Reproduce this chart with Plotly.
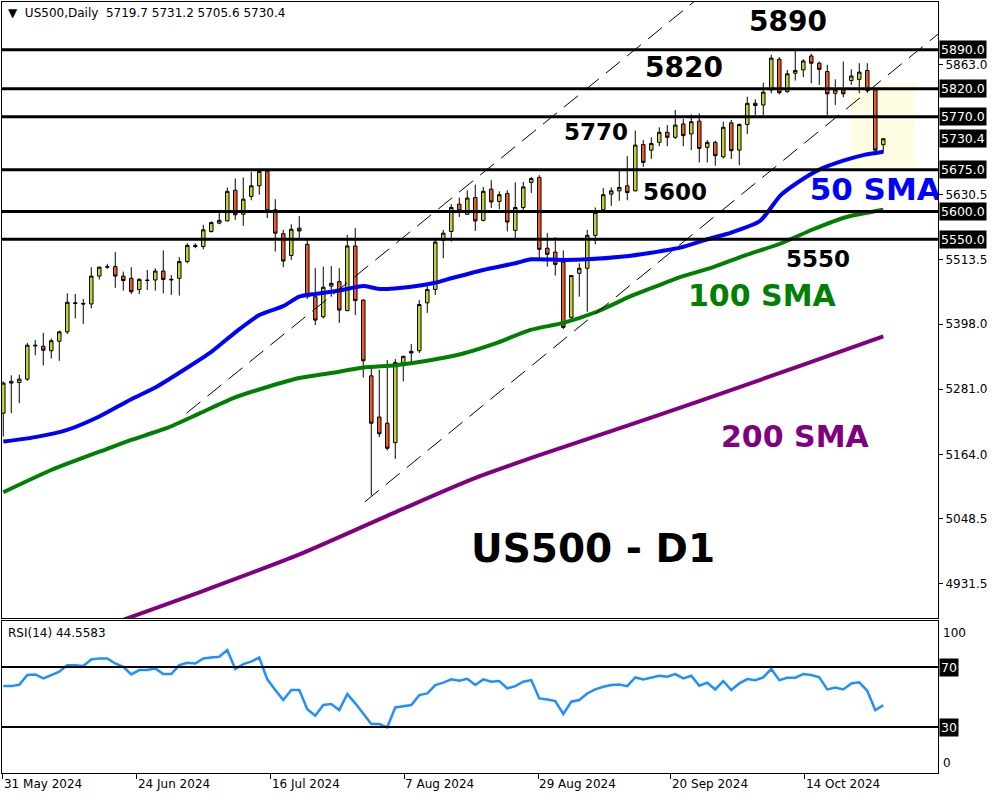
import plotly.graph_objects as go
import pandas as pd

# ---------------- data ----------------
dates = pd.bdate_range("2024-05-31", "2024-11-01")  # 111 daily bars

opens = [5238, 5292, 5293, 5299, 5360, 5358, 5350, 5367, 5384, 5436,
         5435, 5434, 5484, 5500, 5501, 5484, 5480, 5460, 5477, 5477,
         5493, 5477, 5480, 5510, 5539, 5537, 5564, 5579, 5583, 5638,
         5595, 5627, 5646, 5672, 5603, 5560, 5521, 5570, 5541, 5447,
         5411, 5466, 5474, 5422, 5538, 5441, 5305, 5231, 5220, 5185,
         5328, 5349, 5350, 5436, 5460, 5548, 5564, 5613, 5595, 5625,
         5584, 5640, 5618, 5632, 5566, 5607, 5652, 5661, 5534, 5527,
         5509, 5410, 5489, 5498, 5557, 5603, 5631, 5637, 5646, 5637,
         5720, 5710, 5724, 5742, 5733, 5757, 5739, 5762, 5715, 5724,
         5698, 5759, 5710, 5756, 5794, 5791, 5818, 5873, 5815, 5848,
         5854, 5879, 5866, 5851, 5812, 5818, 5835, 5837, 5853, 5818,
         5719.7]
highs = [5295, 5306, 5307, 5364, 5369, 5382, 5372, 5386, 5453, 5452,
         5443, 5500, 5501, 5506, 5527, 5492, 5500, 5480, 5495, 5498,
         5530, 5486, 5518, 5543, 5543, 5576, 5582, 5599, 5643, 5659,
         5661, 5671, 5674, 5673, 5622, 5567, 5577, 5592, 5549, 5498,
         5501, 5502, 5498, 5558, 5570, 5442, 5321, 5316, 5333, 5335,
         5341, 5362, 5441, 5468, 5549, 5567, 5613, 5625, 5638, 5648,
         5644, 5656, 5636, 5638, 5652, 5653, 5662, 5665, 5561, 5554,
         5530, 5486, 5507, 5567, 5607, 5642, 5643, 5673, 5699, 5745,
         5728, 5733, 5751, 5755, 5782, 5766, 5774, 5776, 5728, 5727,
         5761, 5764, 5758, 5806, 5801, 5831, 5881, 5877, 5854, 5888,
         5873, 5883, 5869, 5863, 5837, 5869, 5855, 5866, 5866, 5821,
         5731.2]
lows = [5196, 5238, 5256, 5296, 5342, 5324, 5336, 5332, 5380, 5408,
        5398, 5426, 5478, 5497, 5463, 5458, 5452, 5452, 5459, 5458,
        5453, 5450, 5449, 5507, 5534, 5532, 5562, 5577, 5582, 5585,
        5574, 5620, 5630, 5588, 5528, 5500, 5513, 5552, 5443, 5396,
        5408, 5447, 5400, 5421, 5414, 5302, 5090, 5195, 5171, 5156,
        5295, 5329, 5346, 5418, 5450, 5516, 5546, 5590, 5594, 5565,
        5582, 5606, 5604, 5564, 5552, 5599, 5633, 5516, 5501, 5485,
        5389, 5405, 5447, 5420, 5541, 5598, 5610, 5619, 5620, 5636,
        5680, 5694, 5717, 5717, 5730, 5717, 5710, 5688, 5688, 5682,
        5695, 5694, 5683, 5739, 5773, 5773, 5812, 5810, 5813, 5835,
        5841, 5830, 5827, 5773, 5791, 5805, 5827, 5812, 5813, 5708,
        5705.6]
closes = [5292, 5295, 5299, 5360, 5359, 5351, 5368, 5384, 5437, 5435,
          5434, 5484, 5500, 5501, 5484, 5476, 5456, 5478, 5476, 5493,
          5478, 5478, 5510, 5539, 5537, 5567, 5580, 5584, 5636, 5594,
          5622, 5646, 5672, 5601, 5561, 5511, 5568, 5565, 5447, 5405,
          5464, 5471, 5423, 5538, 5440, 5332, 5220, 5201, 5175, 5329,
          5340, 5346, 5433, 5460, 5545, 5561, 5607, 5601, 5624, 5583,
          5636, 5617, 5630, 5581, 5607, 5644, 5659, 5532, 5523, 5505,
          5392, 5485, 5498, 5557, 5598, 5630, 5637, 5643, 5634, 5719,
          5688, 5722, 5742, 5733, 5755, 5736, 5761, 5713, 5724, 5700,
          5751, 5709, 5756, 5794, 5790, 5814, 5875, 5813, 5847, 5853,
          5870, 5866, 5855, 5811, 5818, 5811, 5843, 5850, 5817, 5710,
          5730.4]

rsi = [57.3, 57.3, 58.2, 64.7, 65.1, 62.4, 64.7, 66.9, 71.3, 71.3,
       70.7, 75.1, 75.8, 75.8, 72.4, 70.2, 65.1, 68.0, 68.0, 69.1,
       65.3, 65.3, 71.3, 72.9, 72.4, 75.8, 76.4, 76.9, 81.3, 68.7,
       72.0, 73.6, 76.4, 61.8, 54.7, 48.0, 54.7, 54.7, 41.8, 37.6,
       44.7, 45.3, 41.3, 52.0, 45.8, 39.1, 32.0, 32.0, 29.8, 43.1,
       44.0, 44.7, 51.3, 52.4, 58.0, 59.6, 61.8, 60.9, 62.2, 58.0,
       61.8, 60.2, 60.7, 55.8, 57.3, 60.2, 61.3, 49.1, 48.4, 47.3,
       38.7, 46.9, 48.0, 52.4, 55.1, 56.9, 58.0, 58.4, 57.3, 63.1,
       61.8, 62.9, 64.2, 63.6, 65.3, 62.4, 64.2, 57.6, 59.6, 55.1,
       60.7, 54.7, 59.1, 62.0, 61.3, 63.1, 68.7, 61.3, 62.9, 62.9,
       65.3, 64.7, 63.1, 55.1, 56.4, 55.1, 59.1, 59.8, 54.2, 41.3,
       44.5583]

# moving averages, read at sample bars
sma50_bar = [0, 4, 8, 12, 16, 19, 22.5, 26, 29, 32, 35, 37, 39, 42, 45, 47, 51, 54, 56,
             60, 64, 66, 70, 73, 77.5, 81, 84.6, 88, 91, 94.6, 97.1, 99.2, 102, 105, 107.5, 110]
sma50_val = [5187, 5195, 5208, 5232, 5263, 5284, 5315, 5348, 5383, 5414, 5430, 5447, 5452,
             5458, 5466, 5461, 5465, 5472, 5480, 5495, 5507, 5514, 5513, 5514, 5519, 5526,
             5535, 5550, 5562, 5583, 5628, 5651, 5675, 5691, 5701, 5707]
sma100_bar = [0, 6, 13, 16, 20.4, 24.6, 28.75, 33, 37, 41, 45, 49, 53, 57.5, 61.7, 65.8,
              70, 74.2, 78.3, 81.5, 84.6, 88.75, 92.9, 97.1, 101.25, 105.4, 110]
sma100_val = [5096, 5136, 5174, 5190, 5211, 5238, 5265, 5285, 5301, 5310, 5320, 5324, 5332,
              5345, 5364, 5387, 5400, 5420, 5447, 5465, 5482, 5500, 5522, 5542, 5568, 5590, 5603]
sma200_bar = [14, 24.6, 37.1, 49.6, 58.7, 67.1, 78.3, 87.1, 99.6, 110]
sma200_val = [4862, 4917, 4985, 5064, 5120, 5163, 5217, 5260, 5323, 5376]

level_prices = [5890, 5820, 5770, 5675, 5600, 5550]
current_price = 5730.4
axis_ticks = [5863.0, 5630.5, 5513.5, 5398.0, 5281.0, 5164.0, 5048.5, 4931.5]
date_tick_bar = [-0.04, 16.71, 33.46, 50.09, 66.84, 83.46, 100.21]
date_tick_text = ["31 May 2024", "24 Jun 2024", "16 Jul 2024", "7 Aug 2024",
                  "29 Aug 2024", "20 Sep 2024", "14 Oct 2024"]
channel_upper = [(22.9, 5238), (87.0, 5984)]
channel_lower = [(45.2, 5079), (117.0, 5920)]
highlight_box = (106.0, 114.0, 5680, 5830)
rsi_levels = [70, 30]

# ---------------- figure ----------------
bars = list(range(len(closes)))
BULL = "#C8D534"
BEAR = "#F25C24"
FONT = "DejaVu Sans"

fig = go.Figure()

fig.add_trace(go.Scatter(x=sma200_bar, y=sma200_val, mode="lines",
                         line=dict(color="#800080", width=4, shape="spline", smoothing=0.6),
                         xaxis="x", yaxis="y", hoverinfo="skip"))
fig.add_trace(go.Scatter(x=sma100_bar, y=sma100_val, mode="lines",
                         line=dict(color="#008000", width=4, shape="spline", smoothing=0.6),
                         xaxis="x", yaxis="y", hoverinfo="skip"))
fig.add_trace(go.Scatter(x=sma50_bar, y=sma50_val, mode="lines",
                         line=dict(color="#0000FF", width=4, shape="spline", smoothing=0.6),
                         xaxis="x", yaxis="y", hoverinfo="skip"))

fig.add_trace(go.Candlestick(
    x=bars, open=opens, high=highs, low=lows, close=closes,
    text=[d.strftime("%d %b %Y") for d in dates],
    increasing=dict(fillcolor=BULL, line=dict(color="black", width=1)),
    decreasing=dict(fillcolor=BEAR, line=dict(color="black", width=1)),
    whiskerwidth=0, xaxis="x", yaxis="y"))

fig.add_trace(go.Scatter(x=[100.8], y=[5635], mode="text", text=["50 SMA"],
                         textposition="middle right",
                         textfont=dict(family=FONT, size=31, color="#0000FF", weight="bold"),
                         cliponaxis=True, xaxis="x", yaxis="y", hoverinfo="skip"))

fig.add_trace(go.Scatter(x=bars, y=rsi, mode="lines",
                         line=dict(color="#1E90FF", width=2.5),
                         xaxis="x2", yaxis="y2", hoverinfo="skip"))

shapes = []
x0, x1, y0, y1 = highlight_box
shapes.append(dict(type="rect", xref="x", yref="y", x0=x0, x1=x1, y0=y0, y1=y1,
                   fillcolor="#FFFDE1", line=dict(width=0), layer="below"))
for p in level_prices:
    shapes.append(dict(type="line", xref="x domain", yref="y", x0=0, x1=1, y0=p, y1=p,
                       line=dict(color="black", width=3)))
for (a, b) in (channel_upper, channel_lower):
    shapes.append(dict(type="line", xref="x", yref="y", x0=a[0], y0=a[1], x1=b[0], y1=b[1],
                       line=dict(color="black", width=1, dash="18px,9px")))
for lv in rsi_levels:
    shapes.append(dict(type="line", xref="x2 domain", yref="y2", x0=0, x1=1, y0=lv, y1=lv,
                       line=dict(color="black", width=2)))

ann = []
# right axis level labels (black boxes)
for p in level_prices + [current_price]:
    ann.append(dict(xref="paper", x=1, xanchor="left", yref="y", y=p, yanchor="middle",
                    text=f"{p:.1f}", showarrow=False, bgcolor="black", borderpad=1,
                    xshift=1, font=dict(family=FONT, size=12.5, color="white")))
for lv in rsi_levels:
    ann.append(dict(xref="paper", x=1, xanchor="left", yref="y2", y=lv, yanchor="middle",
                    text=str(lv), showarrow=False, bgcolor="black", borderpad=1,
                    xshift=1, font=dict(family=FONT, size=12.5, color="white")))
ann.append(dict(xref="paper", x=1, xanchor="left", xshift=3, yref="y2", y=100, yanchor="top",
                yshift=-2, text="100", showarrow=False, font=dict(family=FONT, size=12, color="black")))
ann.append(dict(xref="paper", x=1, xanchor="left", xshift=3, yref="y2", y=0, yanchor="bottom",
                text="0", showarrow=False, font=dict(family=FONT, size=12, color="black")))

# header + RSI caption
ann.append(dict(xref="x domain", x=0.004, xanchor="left", yref="y domain", y=1, yanchor="top",
                yshift=-2, text="▼  US500,Daily  5719.7 5731.2 5705.6 5730.4", showarrow=False,
                font=dict(family=FONT, size=12, color="black")))
ann.append(dict(xref="x2 domain", x=0.004, xanchor="left", yref="y2 domain", y=1, yanchor="top",
                yshift=-3, text="RSI(14) 44.5583", showarrow=False,
                font=dict(family=FONT, size=12, color="black")))

# big chart captions
def big(text, x, y, size, color="black"):
    ann.append(dict(xref="x", x=x, yref="y", y=y, text=text, showarrow=False,
                    xanchor="center", yanchor="middle",
                    font=dict(family=FONT, size=size, color=color, weight="bold")))

big("5890", 98.1, 5940, 28)
big("5820", 85.1, 5859, 28)
big("5770", 74.1, 5742, 23)
big("5600", 84.0, 5635, 23)
big("5550", 101.8, 5515, 23)
big("100 SMA", 94.9, 5450, 30, "#008000")
big("200 SMA", 99.0, 5197, 30, "#800080")
big("US500 - D1", 73.7, 4996, 39)

axis_common = dict(showline=True, mirror=True, linecolor="black", linewidth=1,
                   showgrid=False, zeroline=False)

fig.update_layout(
    width=1000, height=800,
    margin=dict(l=2, r=62, t=2, b=27),
    paper_bgcolor="white", plot_bgcolor="white",
    showlegend=False, boxgap=0.38, hovermode=False,
    shapes=shapes, annotations=ann,
    xaxis=dict(domain=[0, 1], anchor="y", range=[-0.16, 116.84], showticklabels=False,
               ticks="", rangeslider=dict(visible=False), **axis_common),
    yaxis=dict(domain=[0.201, 1], anchor="x", side="right", range=[4870.4, 5975.8],
               tickvals=axis_ticks, ticktext=[f"{v:.1f}" for v in axis_ticks],
               ticks="outside", ticklen=4, tickcolor="black",
               tickfont=dict(family=FONT, size=12, color="black"), **axis_common),
    xaxis2=dict(domain=[0, 1], anchor="y2", matches="x", range=[-0.16, 116.84],
                tickvals=date_tick_bar, ticktext=date_tick_text, ticks="outside", ticklen=5,
                tickcolor="black", ticklabelposition="outside right",
                tickfont=dict(family=FONT, size=12, color="black"),
                **axis_common),
    yaxis2=dict(domain=[0, 0.197], anchor="x2", side="right", range=[-0.67, 100.67],
                showticklabels=False, ticks="", **axis_common),
)

fig.write_html("out.html",
               config={"displayModeBar": False, "staticPlot": True},
               post_script="document.body.style.margin='0px';"
                           "document.body.style.overflow='hidden';")
